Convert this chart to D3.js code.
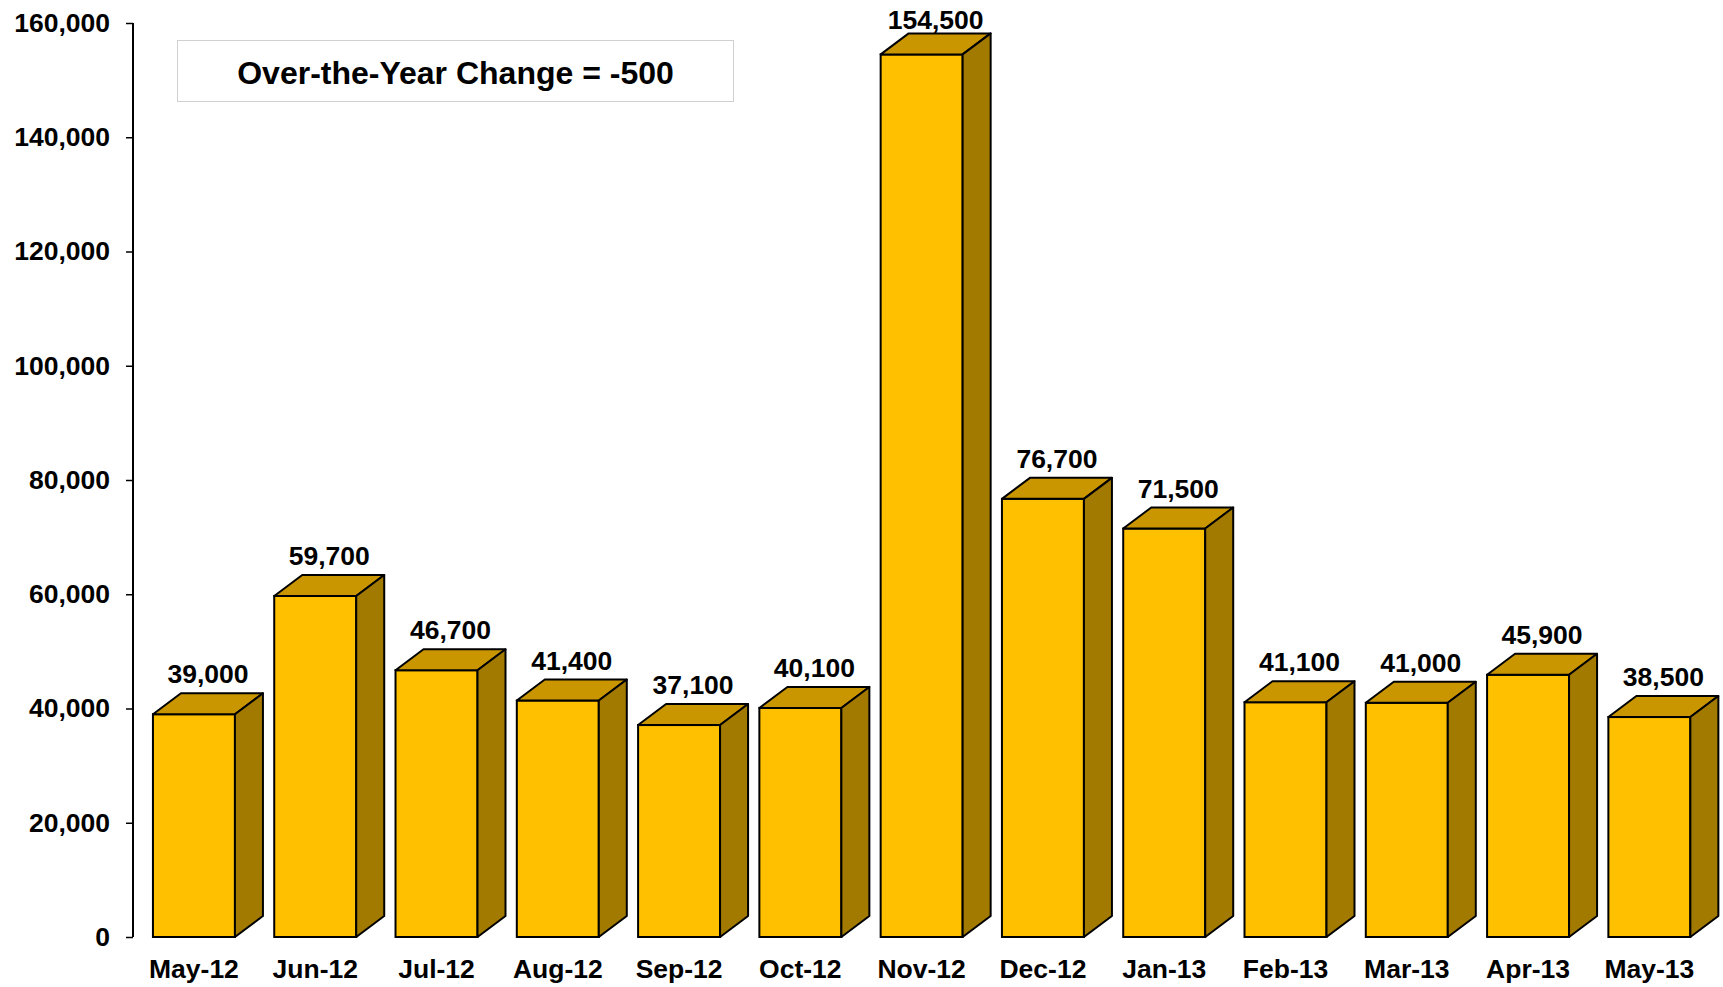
<!DOCTYPE html>
<html>
<head>
<meta charset="utf-8">
<script src="https://cdn.jsdelivr.net/npm/d3@7"></script>
<style>
html,body{margin:0;padding:0;background:#fff;}
svg{display:block;font-family:"Liberation Sans",Arial,sans-serif;}
</style>
</head>
<body>
<svg id="chart" width="1723" height="987"></svg>
<script>
const categories = ["May-12","Jun-12","Jul-12","Aug-12","Sep-12","Oct-12","Nov-12","Dec-12","Jan-13","Feb-13","Mar-13","Apr-13","May-13"];
const values = [39000,59700,46700,41400,37100,40100,154500,76700,71500,41100,41000,45900,38500];
const yTicks = [0,20000,40000,60000,80000,100000,120000,140000,160000];
const titleText = "Over-the-Year Change = -500";

const svg = d3.select("#chart");
const y0 = 937, yTop = 23, axisX = 133;
const dx = 28, dy = 21;

const y = d3.scaleLinear().domain([0,160000]).range([y0,yTop]);
const x = d3.scaleBand().domain(categories).range([133.3,1710]).paddingInner(0.324).paddingOuter(0.162);
const w = x.bandwidth();

// Y axis
const yAxis = d3.axisLeft(y).tickValues(yTicks).tickFormat(d3.format(",")).tickSize(7).tickPadding(16);
const gy = svg.append("g").attr("transform",`translate(${axisX},0)`).call(yAxis);
gy.select(".domain").remove();
gy.selectAll(".tick line").attr("stroke","#000").attr("stroke-width",1.5);
gy.selectAll(".tick text").attr("font-size",26.5).attr("font-weight","bold").attr("fill","#000")
  .attr("font-family","'Liberation Sans',Arial,sans-serif");
svg.append("line").attr("x1",axisX).attr("x2",axisX).attr("y1",y(160000)).attr("y2",y(0))
  .attr("stroke","#000").attr("stroke-width",2);

// Bars
const bars = svg.append("g").selectAll("g").data(categories.map((c,i)=>({c,v:values[i]}))).join("g");
bars.each(function(d){
  const g = d3.select(this);
  const bx = x(d.c), yv = y(d.v);
  const pts = a => a.map(p=>p.join(",")).join(" ");
  g.append("rect").attr("x",bx).attr("y",yv).attr("width",w).attr("height",y0-yv)
    .attr("fill","#FFC000").attr("stroke","#000").attr("stroke-width",2);
  g.append("polygon").attr("points",pts([[bx,yv],[bx+dx,yv-dy],[bx+w+dx,yv-dy],[bx+w,yv]]))
    .attr("fill","#C99600").attr("stroke","#000").attr("stroke-width",2).attr("stroke-linejoin","round");
  g.append("polygon").attr("points",pts([[bx+w,yv],[bx+w+dx,yv-dy],[bx+w+dx,y0-dy],[bx+w,y0]]))
    .attr("fill","#A37A00").attr("stroke","#000").attr("stroke-width",2).attr("stroke-linejoin","round");
  g.append("text").attr("x",bx+w/2+dx/2).attr("y",Math.max(29,yv-31))
    .attr("text-anchor","middle").attr("font-size",26.5).attr("font-weight","bold").attr("fill","#000")
    .text(d3.format(",")(d.v));
});

// X labels
svg.append("g").selectAll("text").data(categories).join("text")
  .attr("x",d=>x(d)+w/2).attr("y",978).attr("text-anchor","middle")
  .attr("font-size",26.5).attr("font-weight","bold").attr("fill","#000").text(d=>d);

// Title box
svg.append("rect").attr("x",177.5).attr("y",40.5).attr("width",556).attr("height",61)
  .attr("fill","#fff").attr("stroke","#d0d0d0").attr("stroke-width",1);
svg.append("text").attr("x",455.5).attr("y",83.5).attr("text-anchor","middle")
  .attr("font-size",32).attr("font-weight","bold").attr("fill","#000").text(titleText);
</script>
</body>
</html>
